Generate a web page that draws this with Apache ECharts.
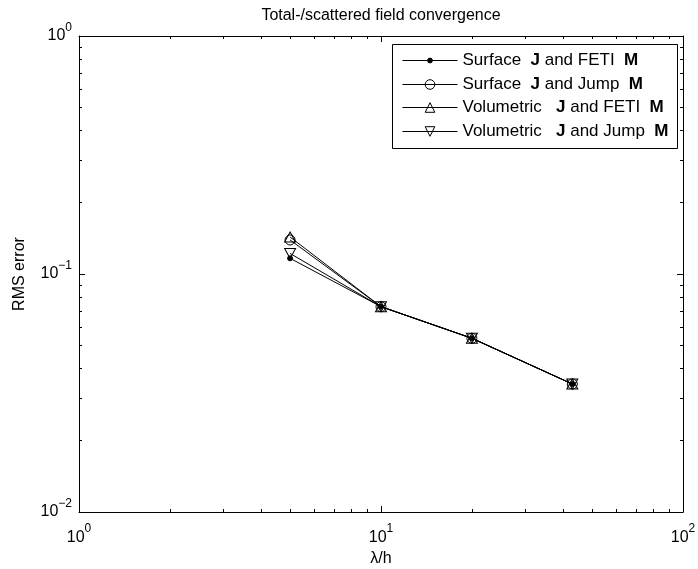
<!DOCTYPE html>
<html>
<head>
<meta charset="utf-8">
<script src="https://cdn.jsdelivr.net/npm/echarts@6/dist/echarts.min.js"></script>
<style>
  html, body { margin: 0; padding: 0; background: #fff; }
  #chart { width: 698px; height: 569px; }
</style>
</head>
<body>
<div id="chart"></div>
<script>
// Mesh density (wavelength per element size) and RMS error of each formulation
const lambdaOverH = [5, 10, 20, 43];
const surfaceFeti = [0.1164, 0.0729, 0.0537, 0.0345];
const surfaceJump = [0.139, 0.0729, 0.0537, 0.0345];
const volumetricFeti = [0.143, 0.0729, 0.0537, 0.0345];
const volumetricJump = [0.122, 0.0729, 0.0537, 0.0345];

const seriesNames = [
  'Surface J and FETI M',
  'Surface J and Jump M',
  'Volumetric J and FETI M',
  'Volumetric J and Jump M'
];
const legendLabels = [
  'Surface  {b|J} and FETI  {b|M}',
  'Surface  {b|J} and Jump  {b|M}',
  'Volumetric   {b|J} and FETI  {b|M}',
  'Volumetric   {b|J} and Jump  {b|M}'
];

// Axis ranges (one decade per major tick, nine minor steps per decade)
const xRange = [1, 100];
const yRange = [0.01, 1];
const minorPerDecade = 9;

const FONT = '"Liberation Sans", Arial, Helvetica, sans-serif';
const BLACK = '#000';

function pairs(xs, ys) { return xs.map((x, i) => [x, ys[i]]); }

function powerLabel(v) {
  const e = Math.round(Math.log10(v));
  const s = e < 0 ? '\u2212' + (-e) : String(e);
  return '{b|10}{s|' + s + '}';
}
const powerRich = {
  b: { fontSize: 16, fontFamily: FONT, color: BLACK, lineHeight: 29 },
  s: { fontSize: 12, fontFamily: FONT, color: BLACK, lineHeight: 12, verticalAlign: 'top' }
};

const tickStyle = { color: BLACK, width: 1 };

// Box axis: black line, inward major and minor ticks
function boxAxis(range, position, extra) {
  return Object.assign({
    type: 'log', logBase: 10, min: range[0], max: range[1],
    position: position,
    splitLine: { show: false },
    minorSplitLine: { show: false },
    axisLine: { show: true, onZero: false, lineStyle: { color: BLACK, width: 1 } },
    axisTick: { show: true, inside: true, length: 6, lineStyle: tickStyle },
    minorTick: { show: true, splitNumber: minorPerDecade, length: 3, lineStyle: tickStyle },
    axisLabel: { show: false }
  }, extra || {});
}

const xAxes = [
  boxAxis(xRange, 'bottom', {
    axisLabel: { show: true, formatter: powerLabel, rich: powerRich, margin: 11 },
    name: '\u03bb/h',
    nameLocation: 'middle',
    nameGap: 39,
    nameTextStyle: { fontSize: 16, fontFamily: FONT, color: BLACK }
  }),
  boxAxis(xRange, 'top')
];

const yAxes = [
  boxAxis(yRange, 'left', {
    axisLabel: { show: true, formatter: powerLabel, rich: powerRich, margin: 7 },
    name: 'RMS error',
    nameLocation: 'middle',
    nameGap: 51,
    nameTextStyle: { fontSize: 16, fontFamily: FONT, color: BLACK }
  }),
  boxAxis(yRange, 'right')
];

const downTriangle = 'path://M0,0L10,0L5,10Z';
const markerSpecs = [
  { symbol: 'circle', size: 5, fill: BLACK },
  { symbol: 'circle', size: 10, fill: 'transparent' },
  { symbol: 'triangle', size: [11, 10], fill: 'transparent' },
  { symbol: downTriangle, size: [11, 10], fill: 'transparent' }
];
const seriesValues = [surfaceFeti, surfaceJump, volumetricFeti, volumetricJump];

const series = seriesValues.map((vals, i) => ({
  name: seriesNames[i],
  type: 'line',
  xAxisIndex: 0,
  yAxisIndex: 0,
  data: pairs(lambdaOverH, vals),
  symbol: markerSpecs[i].symbol,
  symbolSize: markerSpecs[i].size,
  symbolKeepAspect: false,
  showSymbol: true,
  lineStyle: { color: BLACK, width: 1 },
  itemStyle: { color: markerSpecs[i].fill, borderColor: BLACK, borderWidth: 1 },
  emphasis: { disabled: true },
  animation: false,
  z: 3 + i
}));

// Unstroked twin on the top/right axes so the box's mirrored ticks are laid out
series.push({
  name: 'frame',
  type: 'line',
  xAxisIndex: 1,
  yAxisIndex: 1,
  data: pairs(lambdaOverH, surfaceFeti),
  symbol: 'none',
  silent: true,
  lineStyle: { opacity: 0, width: 0 },
  itemStyle: { opacity: 0 },
  emphasis: { disabled: true },
  animation: false,
  z: 0
});

// One legend row per series so each keeps its own marker size
const rowTops = [52, 76, 99, 123];
const rowIconHeights = [6, 12, 12, 12];
const legends = seriesNames.map((name, i) => ({
  data: [name],
  left: 402,
  top: rowTops[i],
  padding: 0,
  orient: 'horizontal',
  itemWidth: 55,
  itemHeight: rowIconHeights[i],
  selectedMode: false,
  lineStyle: { width: 1, color: BLACK },
  itemStyle: { borderWidth: 1 },
  formatter: () => legendLabels[i],
  textStyle: {
    fontSize: 17, fontFamily: FONT, color: BLACK,
    rich: { b: { fontSize: 17, fontFamily: FONT, color: BLACK, fontWeight: 'bold' } }
  }
}));

const chart = echarts.init(document.getElementById('chart'), null, { renderer: 'canvas' });
chart.setOption({
  backgroundColor: '#fff',
  animation: false,
  grid: { left: 79, right: 15, top: 36, bottom: 57, containLabel: false, outerBoundsMode: 'none' },
  xAxis: xAxes,
  yAxis: yAxes,
  legend: legends,
  graphic: [
    {
      type: 'text', x: 381, y: 16, silent: true,
      style: { text: 'Total-/scattered field convergence', fontSize: 16, fontFamily: FONT,
               fill: BLACK, align: 'center', verticalAlign: 'middle' }
    },
    {
      type: 'rect', silent: true, z: 10,
      shape: { x: 392.5, y: 44.5, width: 285, height: 104 },
      style: { fill: 'none', stroke: BLACK, lineWidth: 1 }
    }
  ],
  series: series
});
</script>
</body>
</html>
